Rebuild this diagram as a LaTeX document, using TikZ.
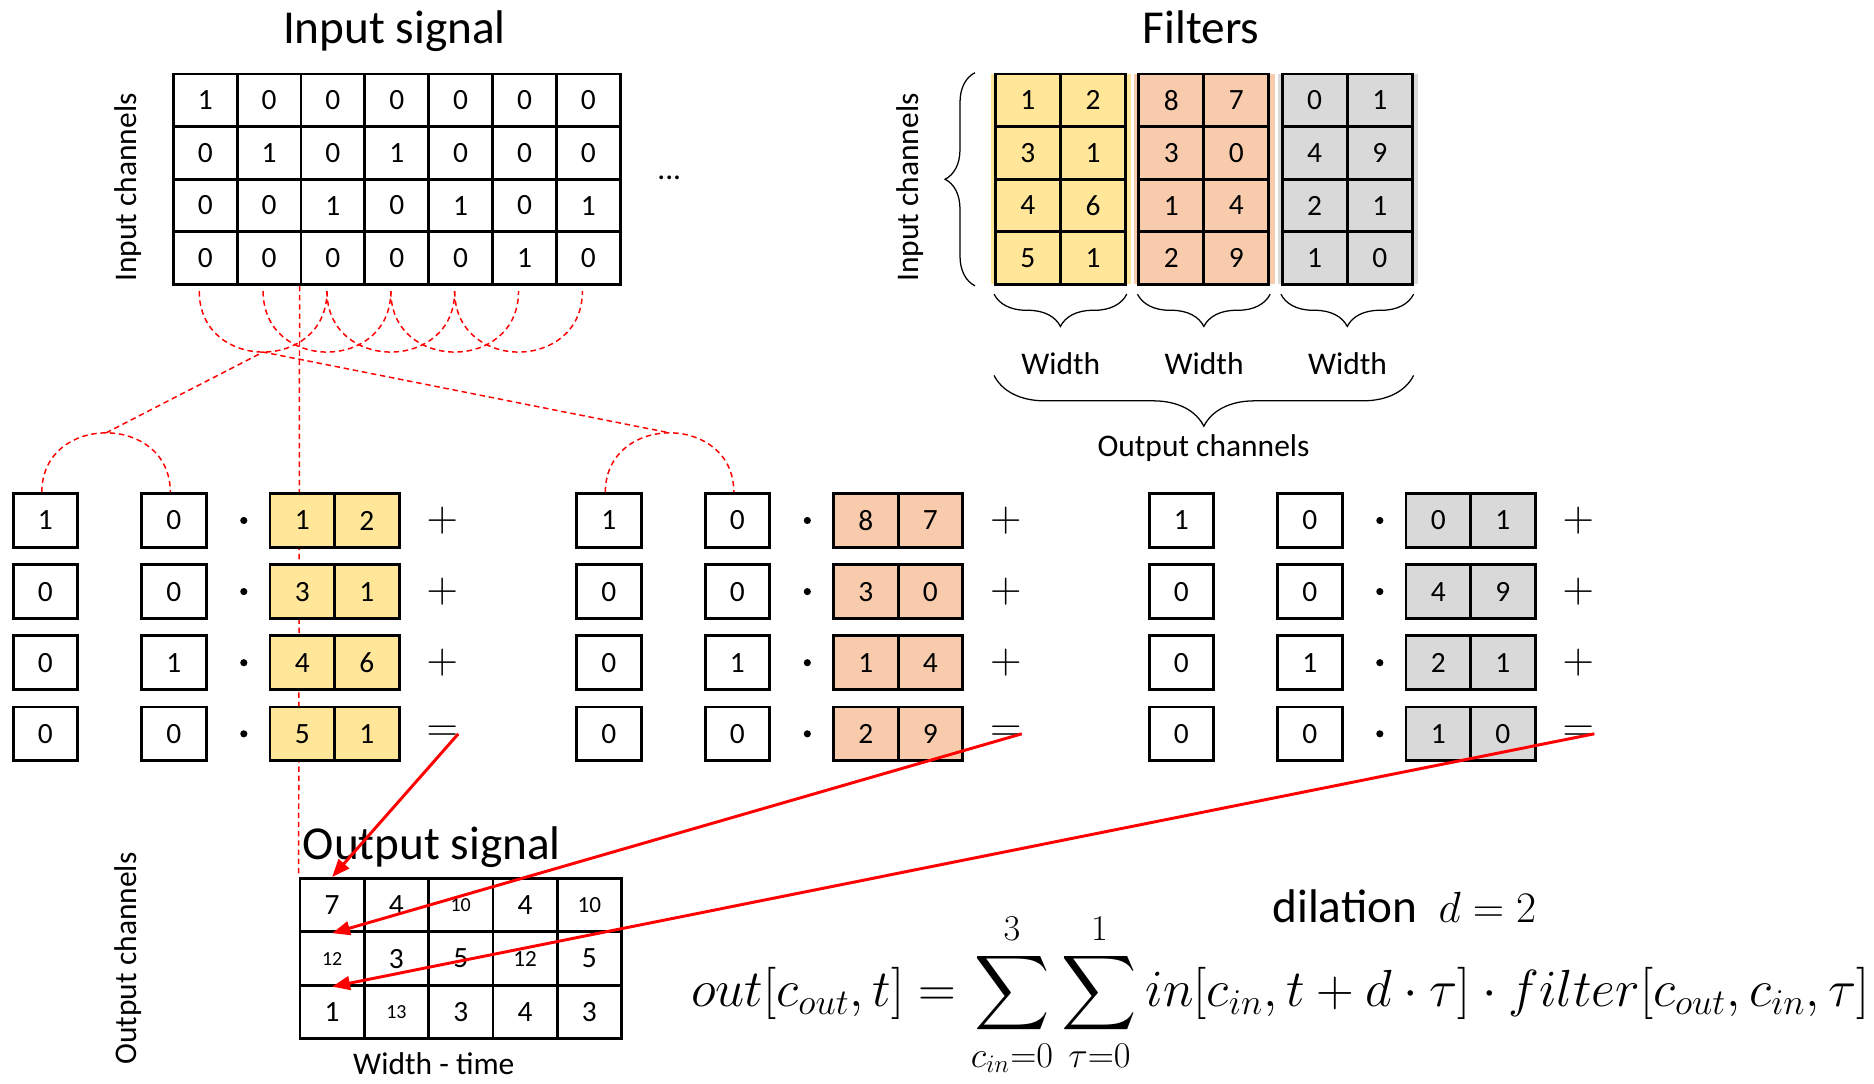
\documentclass[tikz,border=0pt]{standalone}
\usepackage{fontspec}
\setmainfont{Carlito}
\usepackage{amsmath}
\usetikzlibrary{arrows.meta,decorations.pathreplacing}
\definecolor{filteryellow}{RGB}{255,230,153}
\definecolor{filterorange}{RGB}{248,203,173}
\definecolor{filtergray}{RGB}{217,217,217}
\definecolor{dilred}{RGB}{255,0,0}
\newcommand{\smallnum}[1]{{\fontsize{9.5}{11}\selectfont #1}}
\newcommand{\midnum}[1]{{\fontsize{11}{13}\selectfont #1}}

\begin{document}
\begin{tikzpicture}[
  title/.style ={font=\fontsize{22.5}{27}\selectfont, inner sep=0pt},
  chan/.style  ={font=\fontsize{15}{18}\selectfont, inner sep=0pt},
  cell/.style  ={draw, line width=1.3pt, minimum width=1.07cm, minimum height=0.88cm,
                 inner sep=0pt, font=\fontsize{14}{16}\selectfont},
  fcell/.style ={cell, minimum width=1.085cm},
  tcell/.style ={cell, minimum width=1.08cm, minimum height=0.9cm},
  ocell/.style ={cell, minimum width=1.076cm, minimum height=0.894cm},
  opdot/.style ={circle, fill, inner sep=0pt, minimum size=0.12cm},
  sign/.style  ={font=\fontsize{21}{25}\selectfont, inner sep=0pt},
  eqn/.style   ={font=\fontsize{25}{30}\selectfont, inner sep=0pt},
  curly/.style ={decorate, decoration={brace, amplitude=#1}, line width=0.6pt},
  dil/.style   ={draw=dilred, line width=0.7pt, dash pattern=on 2.6pt off 1.8pt},
  feed/.style  ={-{Triangle[length=3mm, width=2.3mm]}, draw=dilred, line width=1.4pt},
]
\useasboundingbox (0,0) rectangle (31.36,18.14);

% titles and axis names
\node[title, anchor=base] (intitle) at (6.6,17.42) {Input signal};
\node[title, anchor=base] (ftitle) at (20.1,17.42) {Filters};
\node[title, anchor=base west] (outtitle) at (5.06,3.76) {Output signal};
\node[chan, rotate=90] (inchan) at (2.15,15.0) {Input channels};
\node[chan, rotate=90] (fchan) at (15.23,15.0) {Input channels};
\node[chan, rotate=90] (outchan) at (2.15,2.1) {Output channels};
\node[chan, anchor=base] (more) at (11.2,15.14) {...};

% input signal
\foreach \row [count=\r] in {{1,0,0,0,0,0,0},{0,1,0,1,0,0,0},{0,0,1,0,1,0,1},{0,0,0,0,0,1,0}}
  \foreach \v [count=\c] in \row
    \node[cell] (in-\r-\c) at ({2.9+(\c-0.5)*1.0686},{16.9-(\r-0.5)*0.88}) {\v};

% output signal
\foreach \row [count=\r] in {{7,4,\smallnum{10},4,\midnum{10}},{\smallnum{12},3,5,\midnum{12},5},{1,\smallnum{13},3,4,3}}
  \foreach \v [count=\c] in \row
    \node[ocell] (out-\r-\c) at ({5.02+(\c-0.5)*1.076},{3.44-(\r-0.5)*0.894}) {\v};
\node[chan, anchor=base] (wtime) at (7.26,0.16) {Width - time};

% t = 0
\draw[dil] (in-4-3.south west) -- (out-1-1.north west);

% filters, and the terms of the sum
\foreach \g/\fc in {1/filteryellow, 2/filterorange, 3/filtergray}
  \fill[\fc] ({16.58+(\g-1)*2.4},13.38) rectangle ++(2.35,3.52);
\foreach \r/\ya/\yb/\oa/\ob/\ga/\gb/\xa/\xb/\op in
    {1/1/2/8/7/0/1/1/0/+, 2/3/1/3/0/4/9/0/0/+, 3/4/6/1/4/2/1/0/1/+, 4/5/1/2/9/1/0/0/0/=}
  \foreach \g/\fc/\va/\vb/\gx in
      {1/filteryellow/\ya/\yb/0, 2/filterorange/\oa/\ob/9.43, 3/filtergray/\ga/\gb/19.01} {
    \node[fcell, fill=\fc] (f\g-\r-1) at ({17.2+(\g-1)*2.4},{16.9-(\r-0.5)*0.88}) {\va};
    \node[fcell, fill=\fc] (f\g-\r-2) at ({18.29+(\g-1)*2.4},{16.9-(\r-0.5)*0.88}) {\vb};
    \node[tcell] (xa-\g-\r) at ({0.76+\gx},{9.43-(\r-1)*1.19}) {\xa};
    \node[tcell] (xb-\g-\r) at ({2.91+\gx},{9.43-(\r-1)*1.19}) {\xb};
    \node[opdot] (dot-\g-\r) at ({4.08+\gx},{9.43-(\r-1)*1.19}) {};
    \node[tcell, fill=\fc] (fa-\g-\r) at ({5.06+\gx},{9.43-(\r-1)*1.19}) {\va};
    \node[tcell, fill=\fc] (fb-\g-\r) at ({6.14+\gx},{9.43-(\r-1)*1.19}) {\vb};
    \node[sign] (op-\g-\r) at ({7.4+\gx},{9.43-(\r-1)*1.19}) {$\op$};
  }

% braces
\draw[curly=0.5cm] ([xshift=-0.32cm]f1-4-1.south west) -- ([xshift=-0.32cm]f1-1-1.north west);
\foreach \g in {1,2,3}
  \draw[curly=0.54cm] ([yshift=-0.14cm]f\g-4-2.south east) -- ([yshift=-0.14cm]f\g-4-1.south west);
\draw[curly=0.85cm] ([yshift=-1.5cm]f3-4-2.south east) -- ([yshift=-1.5cm]f1-4-1.south west);
\node[chan] (w1) at (17.75,12.06) {Width};
\node[chan] (w2) at (20.15,12.06) {Width};
\node[chan] (w3) at (22.55,12.06) {Width};
\node[chan] (ochan) at (20.14,10.64) {Output channels};

% dilated taps
\foreach \c in {1,...,7}
  \coordinate (tap-\c) at ([xshift=-0.1cm, yshift=-0.09cm]in-4-\c.south);
\foreach \c [evaluate=\c as \e using int(\c+2)] in {1,...,5}
  \draw[dil] (tap-\c) to[out=-90, in=-90, looseness=1.63] node[coordinate, pos=0.5] (low-\c) {} (tap-\e);
\foreach \g in {1,2}
  \draw[dil] ([xshift=-0.06cm]xa-\g-1.north) to[out=90, in=90, looseness=1.58]
    node[coordinate, pos=0.5] (high-\g) {} ([xshift=-0.06cm]xb-\g-1.north);
\draw[dil] (high-1) -- (low-1) -- (high-2);

% formula
\node[title, anchor=base] (dilation) at (23.5,2.7) {dilation\ \ $d=2$};
\node[eqn, anchor=base west] (formula) at (11.56,1.3)
  {$\displaystyle out[c_{out},t]=\sum_{c_{in}=0}^{3}\sum_{\tau=0}^{1}in[c_{in},t+d\cdot\tau]\cdot filter[c_{out},c_{in},\tau]$};

% results into the output
\draw[feed] (op-1-4.east) -- (out-1-1.north);
\draw[feed] (op-2-4.east) -- (out-1-1.south);
\draw[feed] (op-3-4.east) -- (out-2-1.south);

\end{tikzpicture}
\end{document}
